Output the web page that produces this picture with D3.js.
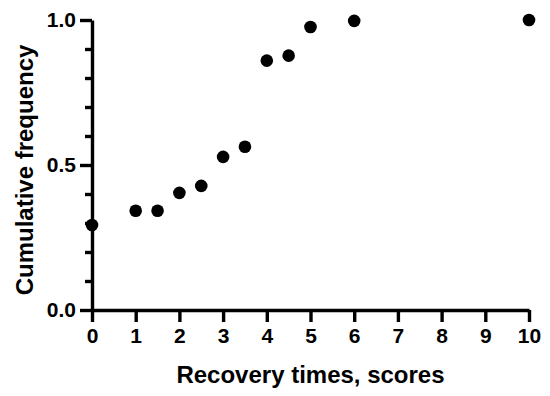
<!DOCTYPE html>
<html>
<head>
<meta charset="utf-8">
<script src="https://cdn.jsdelivr.net/npm/d3@7"></script>
<style>
	body { margin: 0; background: #fff; }
	svg { display: block; font-family: 'Liberation Sans', Arial, sans-serif; }
	.axis path, .axis line { stroke: #000; stroke-width: 3.4px; }
	.axis text { font-size: 21px; font-weight: bold; fill: #000; }
	.title { font-size: 24px; font-weight: bold; fill: #000; }
</style>
</head>
<body>
<div id="chart"></div>
<script>
// recovery time scores vs cumulative frequency
const scores = [0, 1, 1.5, 2, 2.5, 3, 3.5, 4, 4.5, 5, 6, 10];
const cumFreq = [0.293, 0.342, 0.342, 0.404, 0.428, 0.528, 0.563, 0.860, 0.877, 0.976, 0.997, 1.0];
const xTicks = [0, 1, 2, 3, 4, 5, 6, 7, 8, 9, 10];
const yMajor = [0, 0.5, 1.0];
const yMinor = [0.1, 0.2, 0.3, 0.4, 0.6, 0.7, 0.8, 0.9];

const width = 550;
const height = 396;
const margin = { top: 20, right: 21, bottom: 86, left: 92 };

const $svg = d3.select('#chart').append('svg')
	.attr('width', width)
	.attr('height', height);

const x = d3.scaleLinear()
	.domain([0, 10])
	.range([margin.left, width - margin.right]);

const y = d3.scaleLinear()
	.domain([0, 1])
	.range([height - margin.bottom, margin.top]);

// minor y ticks first, no labels
$svg.append('g')
	.attr('class', 'axis')
	.attr('transform', `translate(${margin.left},0)`)
	.call(d3.axisLeft(y).tickValues(yMinor).tickSize(7).tickFormat(''))
	.call(g => g.select('.domain').remove());

$svg.append('g')
	.attr('class', 'axis')
	.attr('transform', `translate(${margin.left},0)`)
	.call(d3.axisLeft(y)
		.tickValues(yMajor)
		.tickSize(12)
		.tickSizeOuter(0)
		.tickPadding(4)
		.tickFormat(d3.format('.1f')));

$svg.append('g')
	.attr('class', 'axis')
	.attr('transform', `translate(0,${height - margin.bottom})`)
	.call(d3.axisBottom(x)
		.tickValues(xTicks)
		.tickSize(12)
		.tickSizeOuter(0)
		.tickPadding(6)
		.tickFormat(d3.format('d')));

$svg.selectAll('.axis text').attr('font-family', null);

$svg.append('g')
	.selectAll('circle')
	.data(scores)
	.enter()
	.append('circle')
	.attr('cx', d => x(d))
	.attr('cy', (d, i) => y(cumFreq[i]))
	.attr('r', 6.3)
	.attr('fill', '#000');

$svg.append('text')
	.attr('class', 'title')
	.attr('x', (x(0) + x(10)) / 2)
	.attr('y', 383)
	.attr('text-anchor', 'middle')
	.text('Recovery times, scores');

$svg.append('text')
	.attr('class', 'title')
	.attr('transform', 'translate(33,170) rotate(-90)')
	.attr('text-anchor', 'middle')
	.text('Cumulative frequency');
</script>
</body>
</html>
